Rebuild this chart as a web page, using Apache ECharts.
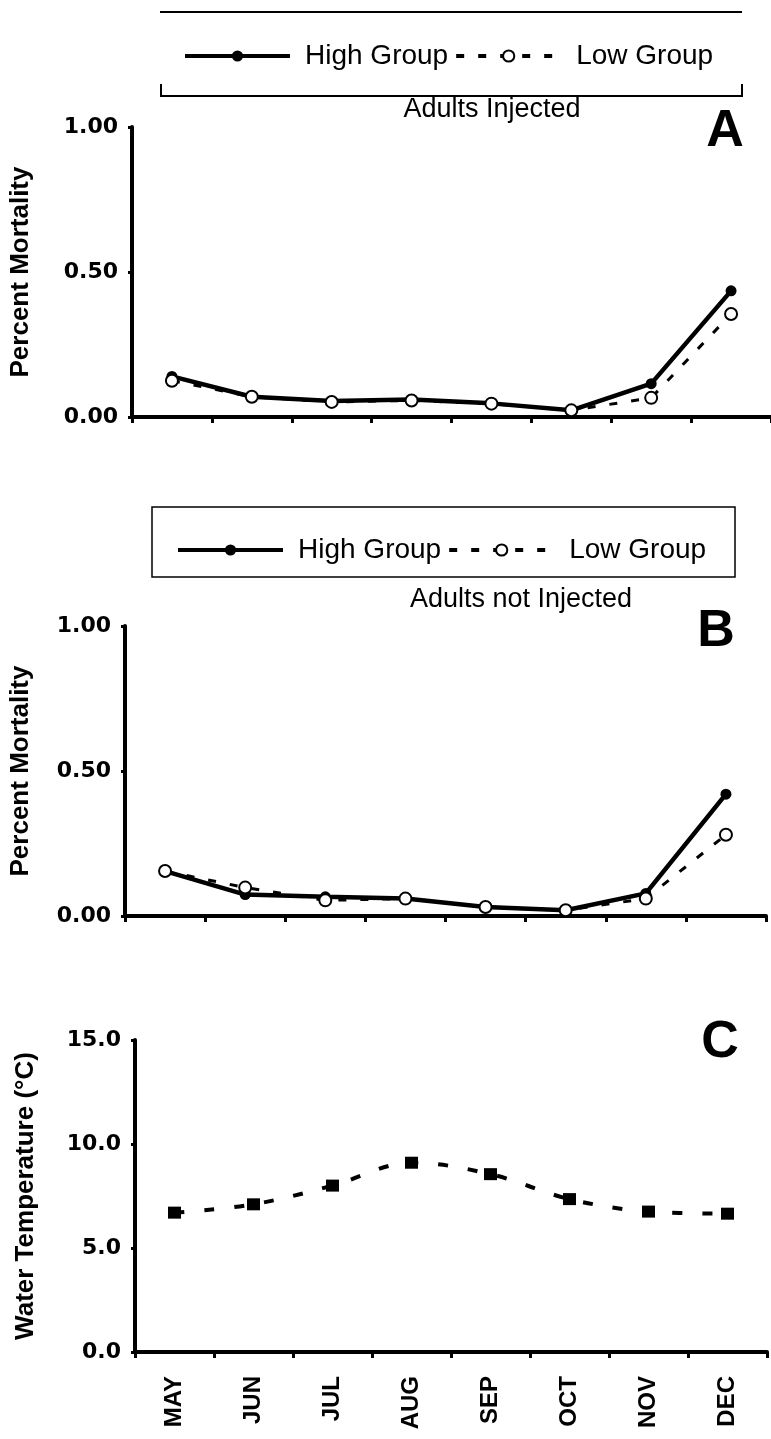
<!DOCTYPE html>
<html><head><meta charset="utf-8">
<script src="https://cdn.jsdelivr.net/npm/echarts@6/dist/echarts.min.js"></script>
<style>html,body{margin:0;padding:0;background:#fff}#c{width:771px;height:1439px}</style>
</head><body><div id="c"></div>
<script>
const months = ['MAY','JUN','JUL','AUG','SEP','OCT','NOV','DEC'];
const injectedHigh = [0.14, 0.07, 0.055, 0.06, 0.047, 0.023, 0.115, 0.435];
const injectedLow = [0.125, 0.07, 0.052, 0.057, 0.046, 0.023, 0.066, 0.355];
const notInjectedHigh = [0.155, 0.074, 0.066, 0.06, 0.031, 0.02, 0.078, 0.42];
const notInjectedLow = [0.155, 0.098, 0.054, 0.06, 0.031, 0.02, 0.06, 0.28];
const waterTemp = [6.7, 7.1, 8.0, 9.1, 8.55, 7.35, 6.75, 6.65];
const seriesNames = ['High Group', 'Low Group'];
const panelTitles = ['Adults Injected', 'Adults not Injected'];
const panelLetters = ['A', 'B', 'C'];
const mortalityAxis = {min: 0, max: 1, interval: 0.5, name: 'Percent Mortality'};
const tempAxis = {min: 0, max: 15, interval: 5, name: 'Water Temperature (°C)'};

const FONT = '"Liberation Sans", Arial, sans-serif';
const TICKFONT = '"DejaVu Sans", "Liberation Sans", sans-serif';
const chart = echarts.init(document.getElementById('c'), null, {renderer: 'canvas'});

function xAx(i, showLabels) {
  return {
    type: 'category', gridIndex: i, data: months, boundaryGap: true,
    axisLine: {lineStyle: {color: '#000', width: 4}},
    axisTick: {show: true, length: 6, lineStyle: {color: '#000', width: 3}},
    axisLabel: showLabels ? {show: true, rotate: 90, margin: 24, fontSize: 24, fontWeight: 'bold', color: '#000', fontFamily: FONT} : {show: false}
  };
}
function yAx(i, cfg, digits, gap) {
  return {
    type: 'value', gridIndex: i, min: cfg.min, max: cfg.max, interval: cfg.interval,
    name: cfg.name, nameLocation: 'middle', nameGap: gap, nameRotate: 90,
    nameTextStyle: {fontSize: 26, fontWeight: 'bold', color: '#000', fontFamily: FONT},
    axisLine: {show: true, lineStyle: {color: '#000', width: 4}},
    axisTick: {show: true, length: 4, lineStyle: {color: '#000', width: 3}},
    splitLine: {show: false},
    axisLabel: {fontSize: 22, fontWeight: 'bold', color: '#000', margin: 14, fontFamily: TICKFONT, formatter: v => v.toFixed(digits)}
  };
}
function highSeries(name, xi, data) {
  return {name, type: 'line', xAxisIndex: xi, yAxisIndex: xi, data,
    symbol: 'circle', symbolSize: 11, z: 2,
    itemStyle: {color: '#000'}, lineStyle: {color: '#000', width: 4.5}};
}
function lowSeries(name, xi, data) {
  return {name, type: 'line', xAxisIndex: xi, yAxisIndex: xi, data,
    symbol: 'circle', symbolSize: 12, z: 3,
    itemStyle: {color: '#fff', borderColor: '#000', borderWidth: 2},
    lineStyle: {color: '#000', width: 3, type: [8, 14]}};
}
function legendAt(top, left) {
  return {top, left, itemWidth: 105, itemHeight: 14, itemGap: 6,
    selectedMode: false,
    data: [
      {name: seriesNames[0], lineStyle: {width: 4}},
      {name: seriesNames[1], lineStyle: {width: 4}}
    ],
    textStyle: {fontSize: 28, color: '#000', fontFamily: FONT, padding: [0, 0, 0, 10]}};
}

chart.setOption({
  animation: false,
  backgroundColor: '#fff',
  grid: [
    {left: 131, top: 127, width: 640, height: 290},
    {left: 124, top: 626, width: 642, height: 290},
    {left: 135, top: 1040, width: 632, height: 312}
  ],
  xAxis: [xAx(0, false), xAx(1, false), xAx(2, true)],
  yAxis: [yAx(0, mortalityAxis, 2, 98), yAx(1, mortalityAxis, 2, 91), yAx(2, tempAxis, 1, 96)],
  legend: [legendAt(37, 178), legendAt(531, 171)],
  series: [
    highSeries(seriesNames[0], 0, injectedHigh),
    lowSeries(seriesNames[1], 0, injectedLow),
    highSeries(seriesNames[0], 1, notInjectedHigh),
    lowSeries(seriesNames[1], 1, notInjectedLow),
    {name: 'Water Temperature', type: 'line', xAxisIndex: 2, yAxisIndex: 2, data: waterTemp,
      symbol: 'rect', symbolSize: [13, 12], smooth: 0.35,
      itemStyle: {color: '#000'}, lineStyle: {color: '#000', width: 4, type: [10, 20]}}
  ],
  graphic: [
    {type: 'line', shape: {x1: 160, y1: 12, x2: 742, y2: 12}, style: {stroke: '#000', lineWidth: 2}},
    {type: 'polyline', shape: {points: [[161, 84], [161, 96], [742, 96], [742, 84]]}, style: {stroke: '#000', lineWidth: 2, fill: null}},
    {type: 'text', x: 492, y: 110, style: {text: panelTitles[0], fontSize: 27, fontFamily: FONT, fill: '#000', align: 'center', verticalAlign: 'middle'}},
    {type: 'text', x: 725, y: 132, style: {text: panelLetters[0], fontSize: 52, fontWeight: 'bold', fontFamily: FONT, fill: '#000', align: 'center', verticalAlign: 'middle'}},
    {type: 'rect', shape: {x: 152, y: 507, width: 583, height: 70}, style: {stroke: '#000', lineWidth: 1.5, fill: null}},
    {type: 'text', x: 521, y: 600, style: {text: panelTitles[1], fontSize: 27, fontFamily: FONT, fill: '#000', align: 'center', verticalAlign: 'middle'}},
    {type: 'text', x: 716, y: 632, style: {text: panelLetters[1], fontSize: 52, fontWeight: 'bold', fontFamily: FONT, fill: '#000', align: 'center', verticalAlign: 'middle'}},
    {type: 'text', x: 720, y: 1043, style: {text: panelLetters[2], fontSize: 52, fontWeight: 'bold', fontFamily: FONT, fill: '#000', align: 'center', verticalAlign: 'middle'}}
  ]
});
</script></body></html>
